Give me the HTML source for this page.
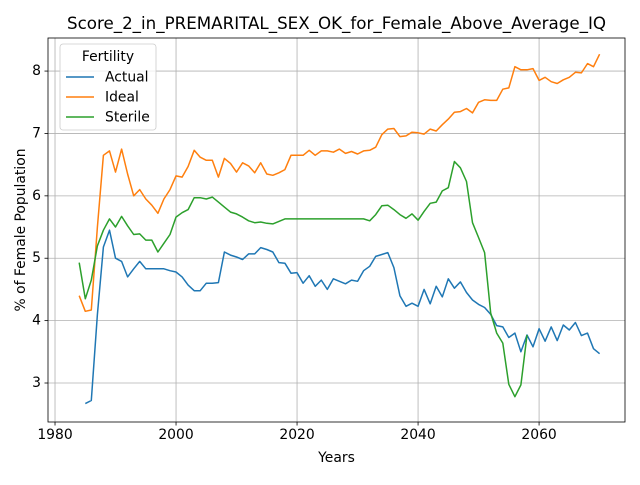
<!DOCTYPE html>
<html><head><meta charset="utf-8"><style>
body{margin:0;background:#fff;}
svg{font-family:"DejaVu Sans","Liberation Sans",sans-serif;}
</style></head><body>
<svg id="chart" width="640" height="480" viewBox="0 0 640 480">
<rect width="640" height="480" fill="#fff"/>
<g id="grid"></g><g id="series"></g><g id="axes"></g>
</svg>
<script>
const yearsStart=1984;
const actualStart=1985;
const actualValues=[2.67,2.72,4.1,5.18,5.45,5.0,4.95,4.7,4.83,4.95,4.83,4.83,4.83,4.83,4.8,4.78,4.7,4.57,4.48,4.48,4.6,4.6,4.61,5.1,5.05,5.02,4.98,5.07,5.07,5.17,5.14,5.1,4.93,4.92,4.76,4.77,4.6,4.72,4.55,4.65,4.5,4.67,4.63,4.59,4.65,4.63,4.8,4.87,5.03,5.06,5.09,4.85,4.4,4.23,4.28,4.23,4.5,4.27,4.55,4.38,4.67,4.52,4.62,4.45,4.33,4.26,4.21,4.1,3.92,3.9,3.73,3.8,3.5,3.77,3.58,3.87,3.67,3.9,3.68,3.93,3.85,3.97,3.76,3.8,3.55,3.47];
const idealStart=1984;
const idealValues=[4.4,4.15,4.17,5.5,6.65,6.72,6.38,6.75,6.35,6.0,6.1,5.95,5.85,5.72,5.95,6.1,6.32,6.3,6.47,6.73,6.62,6.57,6.57,6.3,6.6,6.52,6.38,6.53,6.48,6.37,6.53,6.35,6.33,6.37,6.42,6.65,6.65,6.65,6.73,6.65,6.72,6.72,6.7,6.75,6.68,6.71,6.67,6.72,6.73,6.78,6.98,7.07,7.08,6.95,6.96,7.02,7.01,6.99,7.07,7.04,7.14,7.23,7.34,7.35,7.4,7.33,7.5,7.54,7.53,7.53,7.71,7.73,8.07,8.02,8.02,8.04,7.85,7.9,7.83,7.8,7.86,7.9,7.98,7.97,8.12,8.07,8.27];
const sterileStart=1984;
const sterileValues=[4.93,4.35,4.65,5.2,5.45,5.63,5.5,5.67,5.52,5.38,5.39,5.29,5.29,5.1,5.24,5.38,5.66,5.73,5.78,5.97,5.97,5.95,5.98,5.9,5.82,5.74,5.71,5.66,5.6,5.57,5.58,5.56,5.55,5.59,5.63,5.63,5.63,5.63,5.63,5.63,5.63,5.63,5.63,5.63,5.63,5.63,5.63,5.63,5.6,5.7,5.84,5.85,5.78,5.7,5.64,5.71,5.61,5.75,5.88,5.9,6.08,6.13,6.55,6.45,6.23,5.57,5.33,5.09,4.12,3.8,3.64,2.98,2.78,2.97,3.77];
const xTicks=[1980,2000,2020,2040,2060];
const yTicks=[3,4,5,6,7,8];
const seriesNames=["Actual","Ideal","Sterile"];

const L=48,R=625,T=38,B=422;
const xMin=1978.84,xMax=2074.2,yMin=2.375,yMax=8.53;
const sx=v=>L+(v-xMin)/(xMax-xMin)*(R-L);
const sy=v=>B-(v-yMin)/(yMax-yMin)*(B-T);
const NS="http://www.w3.org/2000/svg";
function mk(tag,attrs,parent){const e=document.createElementNS(NS,tag);for(const k in attrs)e.setAttribute(k,attrs[k]);parent.appendChild(e);return e;}
const grid=document.getElementById('grid'),ser=document.getElementById('series'),ax=document.getElementById('axes');
xTicks.forEach(t=>{const x=sx(t);
 const g=mk('line',{x1:x,x2:x,y1:T,y2:B,stroke:'#b0b0b0','stroke-width':0.8},grid);
 
 
 mk('line',{x1:x,x2:x,y1:B,y2:B+3.5,stroke:'#000','stroke-width':0.8},ax);
 const tx=mk('text',{x:x,y:B+17,'text-anchor':'middle','font-size':'10px',fill:'#000'},ax);tx.textContent=t;
 
 
});
yTicks.forEach(t=>{const y=sy(t);
 const g=mk('line',{x1:L,x2:R,y1:y,y2:y,stroke:'#b0b0b0','stroke-width':0.8},grid);
 
 
 mk('line',{x1:L-3.5,x2:L,y1:y,y2:y,stroke:'#000','stroke-width':0.8},ax);
 const tx=mk('text',{x:L-7,y:y+4,'text-anchor':'end','font-size':'10px',fill:'#000'},ax);tx.textContent=t;
 
 
});
const colors=['#1f77b4','#ff7f0e','#2ca02c'];
[[actualStart,actualValues],[idealStart,idealValues],[sterileStart,sterileValues]].forEach((s,i)=>{
 const pts=s[1].map((v,j)=>sx(s[0]+j).toFixed(1)+','+sy(v).toFixed(1)).join(' ');
 const p=mk('polyline',{points:pts,fill:'none',stroke:colors[i],'stroke-width':1.5,'stroke-linejoin':'round'},ser);
 
 
});
const frame=mk('rect',{x:L,y:T,width:R-L,height:B-T,fill:'none',stroke:'#000','stroke-width':0.8},ax);


const title=mk('text',{x:(L+R)/2,y:29,'text-anchor':'middle','font-size':'12px',fill:'#000'},ax);
title.textContent='Score_2_in_PREMARITAL_SEX_OK_for_Female_Above_Average_IQ';


const xl=mk('text',{x:(L+R)/2,y:462,'text-anchor':'middle','font-size':'10px',fill:'#000'},ax);xl.textContent='Years';


const yl=mk('text',{x:0,y:0,'text-anchor':'middle','font-size':'10px',fill:'#000',transform:'translate(25,'+((T+B)/2)+') rotate(-90)'},ax);yl.textContent='% of Female Population';


const lg=mk('g',{},ax);


mk('rect',{x:60,y:44,width:96,height:86,rx:3,fill:'#fff','fill-opacity':0.8,stroke:'#ccc','stroke-width':0.8},lg);
const lt=mk('text',{x:108,y:61,'text-anchor':'middle','font-size':'10px',fill:'#000'},lg);lt.textContent='Fertility';


seriesNames.forEach((n,i)=>{const y=77+i*20;
 const e=mk('g',{},lg);
 
 
 mk('line',{x1:66,x2:94,y1:y,y2:y,stroke:colors[i],'stroke-width':1.5},e);
 const t=mk('text',{x:105,y:y+4.5,'font-size':'10px',fill:'#000'},e);t.textContent=n;
});
document.querySelectorAll('#axes text').forEach(t=>{const s=parseFloat(t.getAttribute('font-size'));t.setAttribute('font-size',(s*1.39).toFixed(1)+'px');});
</script>
</body></html>
